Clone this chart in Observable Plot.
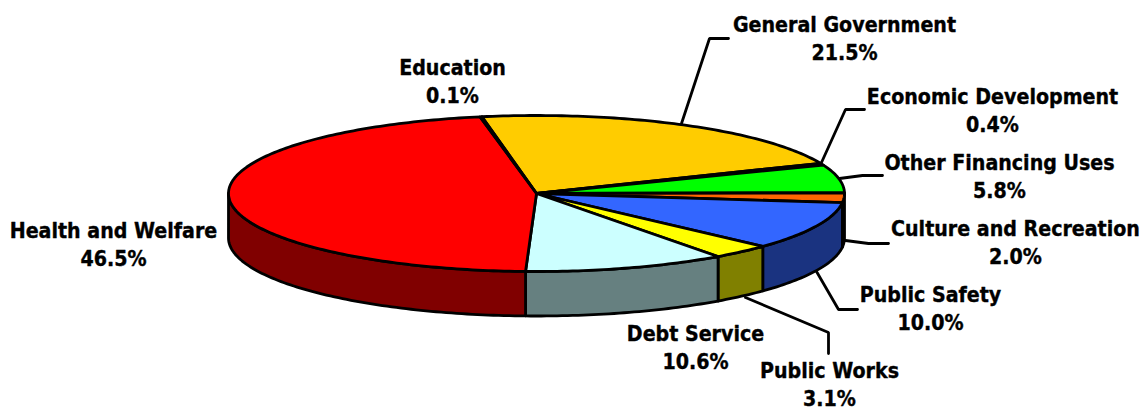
<!DOCTYPE html>
<html>
<head>
<meta charset="utf-8">
<script src="https://cdn.jsdelivr.net/npm/d3@7"></script>
<script src="https://cdn.jsdelivr.net/npm/@observablehq/plot@0.6"></script>
<style>
html,body{margin:0;padding:0;background:#fff;}
svg{display:block;}
</style>
</head>
<body>
<div id="chart"></div>
<script>
// Data, in clockwise drawing order
const names = ["General Government","Economic Development","Other Financing Uses","Culture and Recreation","Public Safety","Public Works","Debt Service","Health and Welfare","Education"];
const values = [21.5,0.4,5.8,2.0,10.0,3.1,10.6,46.5,0.1];
const topColors = ["#FFCC00","#660066","#00FF00","#FF6600","#3366FF","#FFFF00","#CCFFFF","#FF0000","#FFFFCC"];
const sideColors = ["#806600","#330033","#008000","#803300","#1A3380","#808000","#668080","#800000","#808066"];
const labelX = [844,992,999,1015,930,829,695,113,452];
const labelY = [37,109,175,241,307,383,346,243,80];
const leaders = [
  [[681,123],[709,38],[728,38]],
  [[821,162],[845,109],[864,109]],
  [[839,178],[862,175],[882,175]],
  [[845,240],[868,243],[888,243]],
  [[816,271],[838,309],[857,309]],
  [[745,297],[828,332],[828,353]],
  [],[],[]
];

// Pie geometry
const cx = 536, cy = 193, rx = 308, ry = 78, depth = 44.5, startAngle = -10.2;

const ellipse = (t, dy = 0) => {
  const a = t * Math.PI / 180;
  return {x: cx + rx * Math.sin(a), y: cy - ry * Math.cos(a) + dy};
};
const sweep = (a0, a1) => {
  const n = Math.max(2, Math.ceil(Math.abs(a1 - a0)));
  return d3.range(n + 1).map(i => a0 + (a1 - a0) * i / n);
};

let acc = startAngle;
const slices = names.map((name, i) => {
  const a0 = acc, a1 = acc + values[i] * 3.6;
  acc = a1;
  return {name, a0, a1, i};
});

const topPoly = s => {
  const rim = sweep(s.a0, s.a1).map(t => ellipse(t));
  return [{x: cx, y: cy}, ...rim, {x: cx, y: cy}];
};
// The visible wall is the part of a slice between 90° and 270° of the rim
const sidePoly = s => {
  const a0 = Math.max(s.a0, 90), a1 = Math.min(s.a1, 270);
  if (a1 <= a0) return null;
  const upper = sweep(a0, a1).map(t => ellipse(t));
  const lower = sweep(a1, a0).map(t => ellipse(t, depth));
  return [...upper, ...lower, upper[0]];
};

const lineStyle = {x: "x", y: "y", stroke: "#000", strokeWidth: 2.8, strokeLinejoin: "round", curve: "linear"};

const marks = [];
slices.forEach(s => {
  const p = sidePoly(s);
  if (p) marks.push(Plot.line(p, {...lineStyle, fill: sideColors[s.i]}));
});
slices.forEach(s => {
  marks.push(Plot.line(topPoly(s), {...lineStyle, fill: topColors[s.i]}));
});
leaders.forEach(l => {
  if (l.length) marks.push(Plot.line(l.map(([x, y]) => ({x, y})), {...lineStyle, strokeLinejoin: "miter"}));
});
marks.push(Plot.text(slices, {
  x: s => labelX[s.i],
  y: s => labelY[s.i],
  text: s => `${s.name}\n${values[s.i].toFixed(1)}%`,
  fill: "#000",
  stroke: "#000",
  strokeWidth: 0.35,
  fontFamily: "DejaVu Sans Condensed, DejaVu Sans",
  fontWeight: "bold",
  fontSize: 21.2,
  lineHeight: 1.32,
  lineAnchor: "middle",
  textAnchor: "middle"
}));

const chart = Plot.plot({
  width: 1146,
  height: 407,
  margin: 0,
  style: {background: "#fff"},
  x: {domain: [0, 1146], range: [0, 1146], axis: null},
  y: {domain: [0, 407], range: [0, 407], axis: null},
  marks
});
document.getElementById("chart").append(chart);
</script>
</body>
</html>
